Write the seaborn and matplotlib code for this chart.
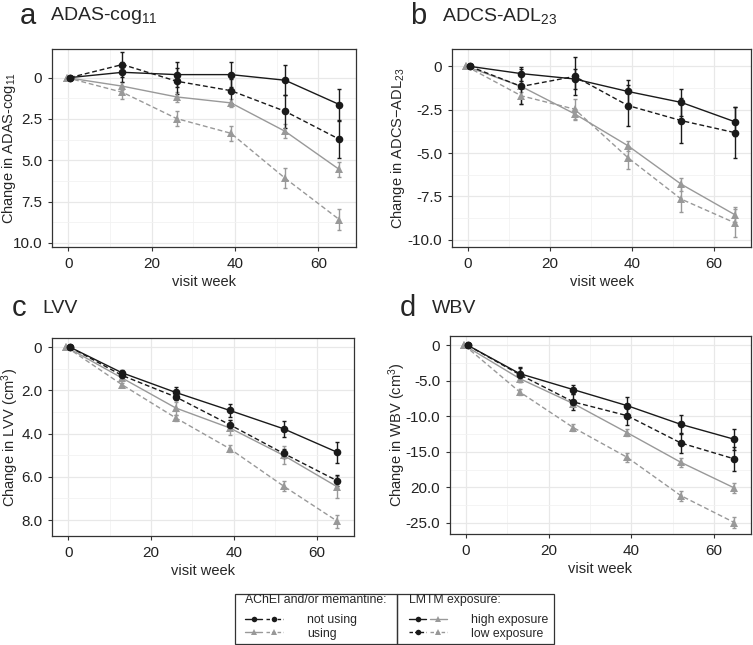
import numpy as np
import pandas as pd
import matplotlib
matplotlib.use("Agg")
import matplotlib.pyplot as plt
from matplotlib.lines import Line2D
from matplotlib.patches import Rectangle
from matplotlib.legend_handler import HandlerTuple
from matplotlib.ticker import FixedLocator, FixedFormatter
import seaborn as sns

sns.set_style("white")
plt.rcParams['font.family'] = ['Liberation Sans', 'DejaVu Sans']
plt.rcParams['mathtext.fontset'] = 'custom'
plt.rcParams['mathtext.rm'] = 'Liberation Sans'
plt.rcParams['mathtext.default'] = 'regular'

# visit weeks (baseline slightly dodged like in the original)
weeks_black = [0.4, 13, 26, 39, 52, 65]
weeks_grey = [-0.4, 13, 26, 39, 52, 65]

# a) ADAS-cog11
adas_not_high = [0, -0.32, -0.18, -0.18, 0.16, 1.63]
adas_not_high_err = [0, 0.6, 0.75, 0.77, 0.9, 0.95]
adas_not_low = [0, -0.79, 0.22, 0.79, 2.04, 3.73]
adas_not_low_err = [0, 0.75, 0.8, 0.72, 1.0, 1.12]
adas_use_high = [0, 0.52, 1.17, 1.53, 3.25, 5.56]
adas_use_high_err = [0, 0.25, 0.3, 0.25, 0.42, 0.45]
adas_use_low = [0, 0.89, 2.48, 3.37, 6.09, 8.59]
adas_use_low_err = [0, 0.38, 0.46, 0.47, 0.6, 0.64]

# b) ADCS-ADL23
adl_not_high = [0, -0.42, -0.73, -1.45, -2.08, -3.19]
adl_not_high_err = [0, 0.4, 0.55, 0.68, 0.8, 0.85]
adl_not_low = [0, -1.16, -0.58, -2.26, -3.13, -3.82]
adl_not_low_err = [0, 1.0, 1.1, 1.2, 1.3, 1.45]
adl_use_high = [0, -1.16, -2.74, -4.58, -6.8, -8.55]
adl_use_high_err = [0, 0.3, 0.3, 0.3, 0.38, 0.42]
adl_use_low = [0, -1.7, -2.47, -5.27, -7.66, -9.02]
adl_use_low_err = [0, 0.45, 0.6, 0.65, 0.75, 0.8]

# c) LVV
lvv_not_high = [0, 1.19, 2.1, 2.93, 3.78, 4.87]
lvv_not_high_err = [0, 0.12, 0.27, 0.3, 0.36, 0.48]
lvv_not_low = [0, 1.31, 2.31, 3.59, 4.92, 6.19]
lvv_not_low_err = [0, 0.1, 0.15, 0.2, 0.22, 0.25]
lvv_use_high = [0, 1.43, 2.82, 3.74, 5.01, 6.47]
lvv_use_high_err = [0, 0.15, 0.3, 0.35, 0.42, 0.5]
lvv_use_low = [0, 1.74, 3.28, 4.7, 6.43, 8.06]
lvv_use_low_err = [0, 0.1, 0.15, 0.15, 0.25, 0.3]

# d) WBV
wbv_not_high = [0, -3.99, -6.24, -8.49, -11.12, -13.23]
wbv_not_high_err = [0, 1.0, 0.65, 1.2, 1.35, 1.45]
wbv_not_low = [0, -4.13, -7.97, -9.9, -13.74, -15.99]
wbv_not_low_err = [0, 1.0, 1.15, 1.3, 1.45, 1.7]
wbv_use_high = [0, -4.69, -8.21, -12.29, -16.46, -20.08]
wbv_use_high_err = [0, 0.3, 0.5, 0.5, 0.6, 0.7]
wbv_use_low = [0, -6.57, -11.59, -15.76, -21.15, -24.95]
wbv_use_low_err = [0, 0.4, 0.5, 0.6, 0.7, 0.8]

# tick labels as printed
adas_ticks = [0, 2.5, 5.0, 7.5, 10.0]
adas_labels = ["0", "2.5", "5.0", "7.5", "10.0"]
adl_ticks = [0, -2.5, -5.0, -7.5, -10.0]
adl_labels = ["0", "-2.5", "-5.0", "-7.5", "-10.0"]
lvv_ticks = [0, 2.0, 4.0, 6.0, 8.0]
lvv_labels = ["0", "2.0", "4.0", "6.0", "8.0"]
wbv_ticks = [0, -5.0, -10.0, -15.0, -20.0, -25.0]
wbv_labels = ["0", "-5.0", "-10.0", "-15.0", "20.0", "-25.0"]

BLACK = "#1a1a1a"
GREY = "#999999"
series_order = ["use_low", "use_high", "not_low", "not_high"]
palette = {"not_high": BLACK, "not_low": BLACK, "use_high": GREY, "use_low": GREY}
markers = {"not_high": "o", "not_low": "o", "use_high": "^", "use_low": "^"}
dashes = {"not_high": "", "not_low": (3.5, 2), "use_high": "", "use_low": (3.5, 2)}

panels = {
    "adas": dict(nh=(adas_not_high, adas_not_high_err), nl=(adas_not_low, adas_not_low_err),
                 uh=(adas_use_high, adas_use_high_err), ul=(adas_use_low, adas_use_low_err)),
    "adl": dict(nh=(adl_not_high, adl_not_high_err), nl=(adl_not_low, adl_not_low_err),
                uh=(adl_use_high, adl_use_high_err), ul=(adl_use_low, adl_use_low_err)),
    "lvv": dict(nh=(lvv_not_high, lvv_not_high_err), nl=(lvv_not_low, lvv_not_low_err),
                uh=(lvv_use_high, lvv_use_high_err), ul=(lvv_use_low, lvv_use_low_err)),
    "wbv": dict(nh=(wbv_not_high, wbv_not_high_err), nl=(wbv_not_low, wbv_not_low_err),
                uh=(wbv_use_high, wbv_use_high_err), ul=(wbv_use_low, wbv_use_low_err)),
}
key_map = {"nh": "not_high", "nl": "not_low", "uh": "use_high", "ul": "use_low"}

rows = []
for pname, d in panels.items():
    for k, (vals, errs) in d.items():
        s = key_map[k]
        wk = weeks_black if s.startswith("not") else weeks_grey
        for w, v, e in zip(wk, vals, errs):
            rows.append(dict(panel=pname, series=s, week=w, value=v, err=e))
df = pd.DataFrame(rows)

fig = plt.figure(figsize=(7.53, 6.45), dpi=100)
W, H = 753, 645


def box(l, t, r, b):
    return [l / W, 1 - b / H, (r - l) / W, (b - t) / H]


layout = {
    "adas": dict(rect=box(52, 49, 356, 247), ylim=(10.25, -1.73), ticks=adas_ticks, labels=adas_labels,
                 ylabel="Change in ADAS-cog$_{11}$", ylx=9, letter="a", lx=20, tx=50, ty=16,
                 title="ADAS-cog$_{11}$"),
    "adl": dict(rect=box(452, 49, 751, 247), ylim=(-10.42, 1.0), ticks=adl_ticks, labels=adl_labels,
                ylabel="Change in ADCS$-$ADL$_{23}$", ylx=398, letter="b", lx=410, tx=442, ty=16,
                title="ADCS-ADL$_{23}$"),
    "lvv": dict(rect=box(52, 338, 354, 536), ylim=(8.74, -0.42), ticks=lvv_ticks, labels=lvv_labels,
                ylabel="Change in LVV (cm$^3$)", ylx=10, letter="c", lx=12, tx=42, ty=308,
                title="LVV"),
    "wbv": dict(rect=box(450, 336, 751, 534), ylim=(-26.55, 1.31), ticks=wbv_ticks, labels=wbv_labels,
                ylabel="Change in WBV (cm$^3$)", ylx=397, letter="d", lx=400, tx=432, ty=308,
                title="WBV"),
}

for pname, opt in layout.items():
    ax = fig.add_axes(opt["rect"])
    sub = df[df["panel"] == pname]
    sns.lineplot(data=sub, x="week", y="value", hue="series", style="series",
                 hue_order=series_order, style_order=series_order,
                 palette=palette, markers=markers, dashes=dashes,
                 estimator=None, errorbar=None, sort=True, legend=False,
                 markersize=5.5, markeredgewidth=0, linewidth=1.0, ax=ax, zorder=3)
    for s in series_order:
        ss = sub[sub["series"] == s]
        ax.errorbar(ss["week"], ss["value"], yerr=ss["err"], fmt="none",
                    ecolor=palette[s], elinewidth=1.0, capsize=1.6, capthick=1.0, zorder=2)

    ax.set_xlim(-3.9, 69)
    ax.set_ylim(*opt["ylim"])
    ax.xaxis.set_major_locator(FixedLocator([0, 20, 40, 60]))
    ax.xaxis.set_minor_locator(FixedLocator([10, 30, 50]))
    ticks = opt["ticks"]
    ax.yaxis.set_major_locator(FixedLocator(ticks))
    ax.yaxis.set_major_formatter(FixedFormatter(opt["labels"]))
    minor = [(a + b) / 2 for a, b in zip(ticks[:-1], ticks[1:])]
    ax.yaxis.set_minor_locator(FixedLocator(minor))
    ax.grid(which="major", color="#e8e8e8", linewidth=0.9, zorder=0)
    ax.grid(which="minor", color="#f2f2f2", linewidth=0.6, zorder=0)
    ax.set_axisbelow(True)
    for sp in ax.spines.values():
        sp.set_color("#333333")
        sp.set_linewidth(0.9)
    ax.tick_params(which="major", direction="out", length=3, width=0.8, color="#333333",
                   labelsize=11, labelcolor="#222222", pad=4, left=True, bottom=True)
    ax.tick_params(which="minor", length=0)
    ax.set_xlabel("visit week", fontsize=10.5, labelpad=3)
    ax.set_ylabel(opt["ylabel"], fontsize=10.5, ha="center", va="center")
    x0 = opt["rect"][0] * W
    ax.yaxis.set_label_coords((opt["ylx"] - x0) / (opt["rect"][2] * W), 0.5)

    fig.text(opt["lx"] / W, 1 - opt["ty"] / H, opt["letter"], fontsize=21, va="center", ha="left")
    fig.text(opt["tx"] / W, 1 - opt["ty"] / H, opt["title"], fontsize=14, va="center", ha="left")

# legend handles
h_bs = Line2D([], [], color=BLACK, marker="o", markersize=4, markeredgewidth=0, linewidth=1)
h_bd = Line2D([], [], color=BLACK, marker="o", markersize=4, markeredgewidth=0, linewidth=1, dashes=(2.5, 1.5))
h_gs = Line2D([], [], color=GREY, marker="^", markersize=4, markeredgewidth=0, linewidth=1)
h_gd = Line2D([], [], color=GREY, marker="^", markersize=4, markeredgewidth=0, linewidth=1, dashes=(2.5, 1.5))

leg_kw = dict(handler_map={tuple: HandlerTuple(ndivide=None, pad=0.3)},
              alignment="left", frameon=False, fontsize=8.8, title_fontsize=8.8,
              handlelength=3.1, handletextpad=2.0, labelspacing=0.1, borderpad=0,
              borderaxespad=0)

leg1 = fig.legend(handles=[(h_bs, h_bd), (h_gs, h_gd)], labels=["not using", "using"],
                  title="AChEI and/or memantine:", loc="upper left",
                  bbox_to_anchor=(245 / W, 1 - 594 / H), **leg_kw)
leg2 = fig.legend(handles=[(h_bs, h_gs), (h_bd, h_gd)], labels=["high exposure", "low exposure"],
                  title="LMTM exposure:", loc="upper left",
                  bbox_to_anchor=(409 / W, 1 - 594 / H), **leg_kw)
for leg in (leg1, leg2):
    leg._legend_box.sep = 6

# legend boxes
for l, r in [(235, 397), (397, 554)]:
    fig.add_artist(Rectangle((l / W, 1 - 644 / H), (r - l) / W, 50 / H, transform=fig.transFigure,
                             fill=False, edgecolor="#333333", linewidth=0.9))

fig.savefig("out.png", dpi=100)
